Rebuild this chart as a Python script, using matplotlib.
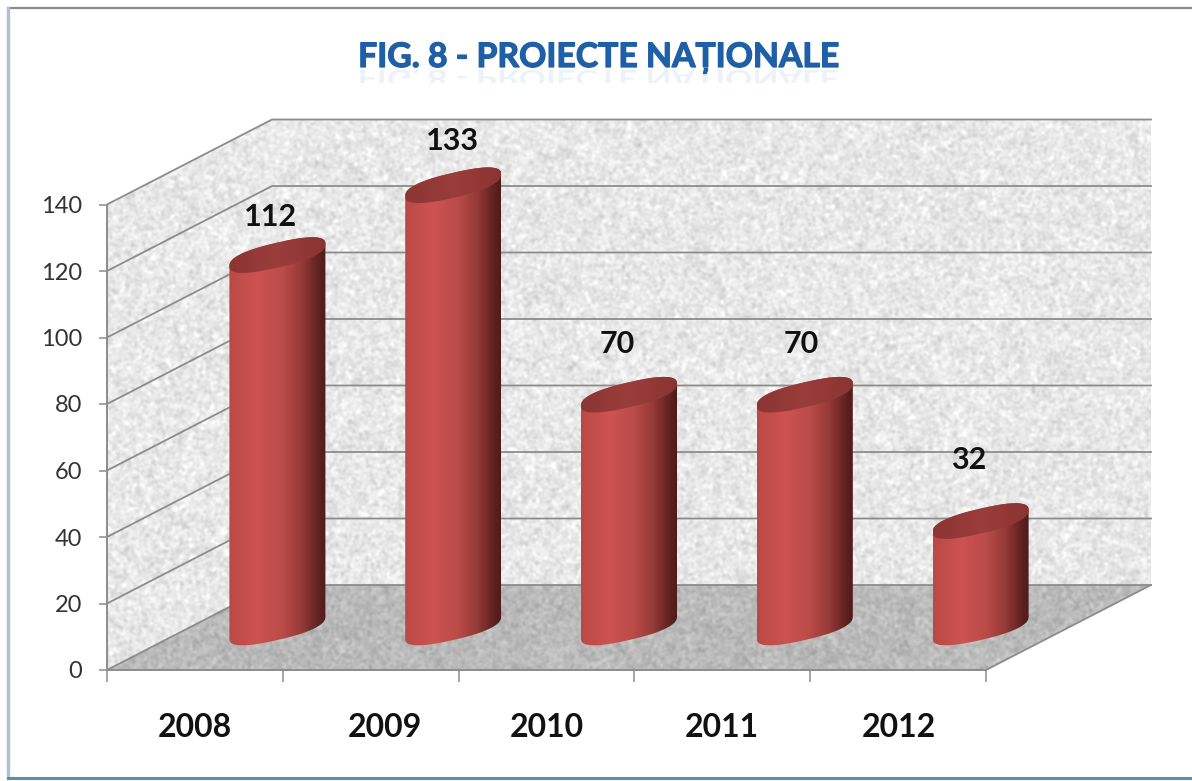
import numpy as np
import matplotlib
matplotlib.use("Agg")
import matplotlib.pyplot as plt
import matplotlib.patheffects as pe
from matplotlib.colors import LinearSegmentedColormap
from matplotlib.font_manager import FontProperties
from matplotlib.lines import Line2D
from matplotlib.patches import PathPatch, Polygon, Rectangle
from matplotlib.path import Path
from matplotlib.textpath import TextPath
from matplotlib.transforms import Affine2D

years = ["2008", "2009", "2010", "2011", "2012"]
projects = [112, 133, 70, 70, 32]
y_ticks = [0, 20, 40, 60, 80, 100, 120, 140]
title = "FIG. 8 - PROIECTE NAȚIONALE"

W, H = 1192, 781
X0, Y0 = 107, 670          # pixel position of the chart origin
PX_X = 175.8               # pixels per category
PX_Y = 3.325               # pixels per project
DEPTH_X = 165 / PX_X       # how far the back wall sits behind the front plane
DEPTH_Y = 85 / PX_Y
GREY = "#8c8c8c"

# hand placed labels in the original: offset from the top of each cylinder, pixels
label_dx = [-7, -1, -12, -4, -12]
label_dy = [38, 44, 51, 51, 61]
year_dx = [0, 14, 0, 0, 1]

plt.rcParams["font.family"] = ["Lato", "DejaVu Sans"]

fig = plt.figure(figsize=(W / 100, H / 100), dpi=100, facecolor="white")
ax = fig.add_axes([0, 0, 1, 1])
ax.patch.set_alpha(0)


def smooth(noise, sigma):
    fy = np.fft.fftfreq(noise.shape[0])[:, None]
    fx = np.fft.rfftfreq(noise.shape[1])[None, :]
    blur = np.exp(-2 * (np.pi * sigma) ** 2 * (fx ** 2 + fy ** 2))
    out = np.fft.irfft2(np.fft.rfft2(noise) * blur, s=noise.shape)
    return out / out.std()


# stone texture of the walls (decoration only, not data)
rng = np.random.default_rng(8)
stone = 0.85 * smooth(rng.standard_normal((H, W)), 1.3) + 0.25 * smooth(rng.standard_normal((H, W)), 3.0)
x_min, x_max = -X0 / PX_X, (W - X0) / PX_X
y_min, y_max = (Y0 - H) / PX_Y, Y0 / PX_Y
extent = [x_min, x_max, y_min, y_max]


def textured(corners, level, contrast):
    poly = Polygon(corners, closed=True, transform=ax.transData, facecolor="none", edgecolor="none")
    ax.add_patch(poly)
    im = ax.imshow(level + contrast * stone, extent=extent, cmap="gray", vmin=0, vmax=1,
                   aspect="auto", zorder=1, interpolation="bilinear")
    im.set_clip_path(poly)


textured([(DEPTH_X, DEPTH_Y), (5 + DEPTH_X, DEPTH_Y), (5 + DEPTH_X, 140 + DEPTH_Y), (DEPTH_X, 140 + DEPTH_Y)], 0.91, 0.034)
textured([(0, 0), (DEPTH_X, DEPTH_Y), (DEPTH_X, 140 + DEPTH_Y), (0, 140)], 0.91, 0.034)
textured([(0, 0), (5, 0), (5 + DEPTH_X, DEPTH_Y), (DEPTH_X, DEPTH_Y)], 0.73, 0.03)

# grid lines run along the side wall and then along the back wall
for v in y_ticks:
    ax.plot([0, DEPTH_X, 5 + DEPTH_X], [v, v + DEPTH_Y, v + DEPTH_Y], color=GREY, lw=1.3, zorder=2)
ax.plot([5, 5 + DEPTH_X], [0, DEPTH_Y], color=GREY, lw=1.3, zorder=2)

body_cmap = LinearSegmentedColormap.from_list("body", [
    (0, "#bb4947"), (0.3, "#cd5351"), (0.55, "#ba4b49"), (0.75, "#953a38"), (0.9, "#672524"), (1, "#4e1b1b")])
cap_cmap = LinearSegmentedColormap.from_list("cap", [(0, "#8c3533"), (0.5, "#9a3d3b"), (1, "#8a3432")])
gradient = np.linspace(0, 1, 256)[None, :]

A, B, SHEAR = 48, 12.5, 11   # cylinder cross-section, pixels


def ring(cx, cy, t):
    # slightly squared ellipse, the original cylinders have blunt corners
    c = np.sign(np.cos(t)) * np.abs(np.cos(t)) ** 0.8
    s = np.sign(np.sin(t)) * np.abs(np.sin(t)) ** 0.8
    return np.column_stack([cx + A * c / PX_X, cy + (SHEAR * c + B * s) / PX_Y])


for i, value in enumerate(projects):
    cx = i + 0.5 + DEPTH_X / 2
    base = DEPTH_Y / 2
    top = base + value
    x_left, x_right = cx - A / PX_X, cx + A / PX_X

    lower = ring(cx, base, np.linspace(np.pi, 2 * np.pi, 60))
    upper = ring(cx, top, np.linspace(0, np.pi, 60))
    body = PathPatch(Path(np.vstack([lower, upper, lower[:1]])), facecolor="none", edgecolor="none")
    ax.add_patch(body)
    im = ax.imshow(gradient, extent=[x_left, x_right, base - 10, top + 10], cmap=body_cmap,
                   aspect="auto", zorder=3 + i, interpolation="bilinear")
    im.set_clip_path(body)

    cap = PathPatch(Path(ring(cx, top, np.linspace(0, 2 * np.pi, 120))), facecolor="none", edgecolor="none")
    ax.add_patch(cap)
    im = ax.imshow(gradient, extent=[x_left, x_right, top - 10, top + 10], cmap=cap_cmap,
                   aspect="auto", zorder=3 + i, interpolation="bilinear")
    im.set_clip_path(cap)

    ax.text(cx + label_dx[i] / PX_X, top + label_dy[i] / PX_Y, str(value), ha="center", va="center",
            fontsize=22, fontweight="bold", color="#111111", zorder=10)
    ax.text(i + 0.5 + year_dx[i] / PX_X, -17.4, years[i], ha="center", va="center",
            fontsize=23, fontweight="bold", color="#111111", zorder=10)

ax.set_xlim(x_min, x_max)
ax.set_ylim(y_min, y_max)

for side in ["top", "right"]:
    ax.spines[side].set_visible(False)
for side in ["left", "bottom"]:
    ax.spines[side].set_position(("data", 0))
    ax.spines[side].set_color(GREY)
    ax.spines[side].set_linewidth(1.4)
    ax.spines[side].set_zorder(2.5)
ax.spines["left"].set_bounds(0, 140)
ax.spines["bottom"].set_bounds(0, 5)
ax.set_yticks(y_ticks)
ax.set_xticks(range(6), [""] * 6)
ax.tick_params(axis="y", length=5.8, width=1.1, color=GREY, pad=12, labelsize=17, labelcolor="#333333")
ax.tick_params(axis="x", length=8.6, width=1.1, color=GREY)

ax.text(599 / W, 1 - 57 / H, title, transform=ax.transAxes, ha="center", va="center",
        fontsize=24.3, fontweight="bold", color="#1f5fa8", zorder=10,
        path_effects=[pe.withStroke(linewidth=0.9, foreground="#1f5fa8")])

# faint mirror image of the title
font = FontProperties(family="Lato", weight="bold", size=24.3)
mirror = TextPath((0, 0), title, size=24.3 * 100 / 72, prop=font)
box = mirror.get_extents()
mirror_patch = PathPatch(mirror, facecolor="#1f5fa8", edgecolor="none", alpha=0.08, zorder=9,
                         transform=Affine2D().scale(1, -0.7).translate(599 - box.width / 2 - box.x0, H - 70))
fig.add_artist(mirror_patch)
mirror_patch.set_clip_path(Rectangle((0, H - 83), W, 13, transform=Affine2D()))

# outer frame of the slide
fig.add_artist(Line2D([8 / W, 1], [1 - 8 / H] * 2, color="#8a8a8a", lw=1.6))
fig.add_artist(Line2D([8 / W] * 2, [3 / H, 1 - 8 / H], color="#a9c0d6", lw=2.4))
fig.add_artist(Line2D([8 / W, 1], [3.5 / H] * 2, color="#5f8cae", lw=2.2))

fig.savefig("out.png", dpi=100, facecolor="white")
